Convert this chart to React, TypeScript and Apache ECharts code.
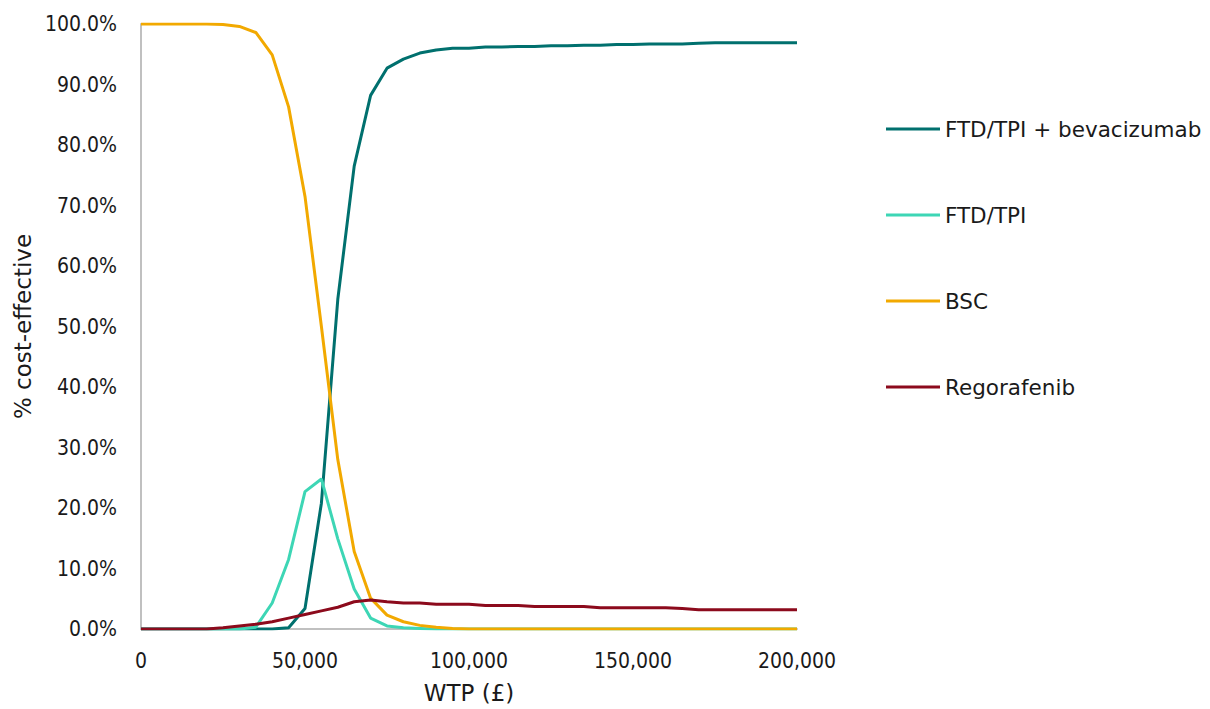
import React, { useEffect, useRef } from "react";
import * as echarts from "echarts";

const wtp: number[] = [
  0, 5000, 10000, 15000, 20000, 25000, 30000, 35000, 40000, 45000,
  50000, 55000, 60000, 65000, 70000, 75000, 80000, 85000, 90000, 95000,
  100000, 105000, 110000, 115000, 120000, 125000, 130000, 135000, 140000, 145000,
  150000, 155000, 160000, 165000, 170000, 175000, 180000, 185000, 190000, 195000, 200000,
];

const seriesNames: string[] = ["FTD/TPI + bevacizumab", "FTD/TPI", "BSC", "Regorafenib"];

const ftdBeva: number[] = [
  0, 0, 0, 0, 0, 0, 0, 0, 0, 0.2,
  3.4, 20.8, 54.5, 76.5, 88.2, 92.7, 94.2, 95.2, 95.7, 96.0,
  96.0, 96.2, 96.2, 96.3, 96.3, 96.4, 96.4, 96.5, 96.5, 96.6,
  96.6, 96.7, 96.7, 96.7, 96.8, 96.9, 96.9, 96.9, 96.9, 96.9, 96.9,
];

const ftd: number[] = [
  0, 0, 0, 0, 0, 0, 0, 0.3, 4.3, 11.5,
  22.7, 24.8, 14.9, 6.6, 1.8, 0.5, 0.2, 0.1, 0, 0,
  0, 0, 0, 0, 0, 0, 0, 0, 0, 0,
  0, 0, 0, 0, 0, 0, 0, 0, 0, 0, 0,
];

const bsc: number[] = [
  100, 100, 100, 100, 100, 99.9, 99.6, 98.6, 94.9, 86.3,
  71.5, 50.0, 28.0, 12.8, 5.1, 2.3, 1.2, 0.6, 0.3, 0.1,
  0, 0, 0, 0, 0, 0, 0, 0, 0, 0,
  0, 0, 0, 0, 0, 0, 0, 0, 0, 0, 0,
];

const rego: number[] = [
  0, 0, 0, 0, 0, 0.2, 0.5, 0.8, 1.2, 1.8,
  2.4, 3.0, 3.6, 4.5, 4.8, 4.5, 4.3, 4.3, 4.1, 4.1,
  4.1, 3.9, 3.9, 3.9, 3.7, 3.7, 3.7, 3.7, 3.5, 3.5,
  3.5, 3.5, 3.5, 3.4, 3.2, 3.2, 3.2, 3.2, 3.2, 3.2, 3.2,
];

const colors: string[] = ["#00706E", "#3DD6B5", "#F2A900", "#8C0A1C"];
const values: number[][] = [ftdBeva, ftd, bsc, rego];

const COND = "'DejaVu Sans Condensed', 'DejaVu Sans', sans-serif";
const WIDE = "'DejaVu Sans', sans-serif";
const TXT = "#1a1a1a";

export default function App() {
  const ref = useRef<HTMLDivElement>(null);
  useEffect(() => {
    if (!ref.current) return;
    const chart = echarts.init(ref.current, undefined, { renderer: "svg" });
    chart.setOption({
      animation: false,
      backgroundColor: "#ffffff",
      textStyle: { fontFamily: COND },
      grid: { left: 141, right: 413, top: 24, bottom: 80, containLabel: false },
      legend: {
        orient: "vertical",
        left: 881,
        top: 112,
        icon: "rect",
        itemWidth: 54,
        itemHeight: 3,
        itemGap: 62,
        data: seriesNames,
        textStyle: { fontFamily: WIDE, fontSize: 21.5, color: TXT, lineHeight: 24, padding: [0, 0, 0, 0] },
      },
      xAxis: {
        type: "value",
        min: 0,
        max: 200000,
        interval: 50000,
        name: "WTP (£)",
        nameLocation: "middle",
        nameGap: 52,
        nameTextStyle: { fontFamily: WIDE, fontSize: 23, color: TXT },
        axisLine: { show: true, lineStyle: { color: "#C0C0C0", width: 2 } },
        axisTick: { show: false },
        splitLine: { show: false },
        axisLabel: {
          margin: 21,
          fontFamily: COND,
          fontSize: 21,
          color: TXT,
          formatter: (v: number) => v.toLocaleString("en-US"),
        },
      },
      yAxis: {
        type: "value",
        min: 0,
        max: 100,
        interval: 10,
        name: "% cost-effective",
        nameLocation: "middle",
        nameGap: 107,
        nameRotate: 90,
        nameTextStyle: { fontFamily: WIDE, fontSize: 23, color: TXT },
        axisLine: { show: true, lineStyle: { color: "#C0C0C0", width: 2 } },
        axisTick: { show: false },
        splitLine: { show: false },
        axisLabel: {
          margin: 24,
          fontFamily: COND,
          fontSize: 21,
          color: TXT,
          formatter: (v: number) => v.toFixed(1) + "%",
        },
      },
      series: seriesNames.map((name, i) => ({
        name,
        type: "line",
        symbol: "none",
        smooth: false,
        color: colors[i],
        lineStyle: { color: colors[i], width: 3 },
        data: wtp.map((x, j) => [x, values[i][j]]),
      })),
    });
    return () => chart.dispose();
  }, []);
  return (
    <div
      ref={ref}
      style={{ position: "fixed", left: 0, top: 0, width: 1210, height: 709, background: "#ffffff" }}
    />
  );
}
